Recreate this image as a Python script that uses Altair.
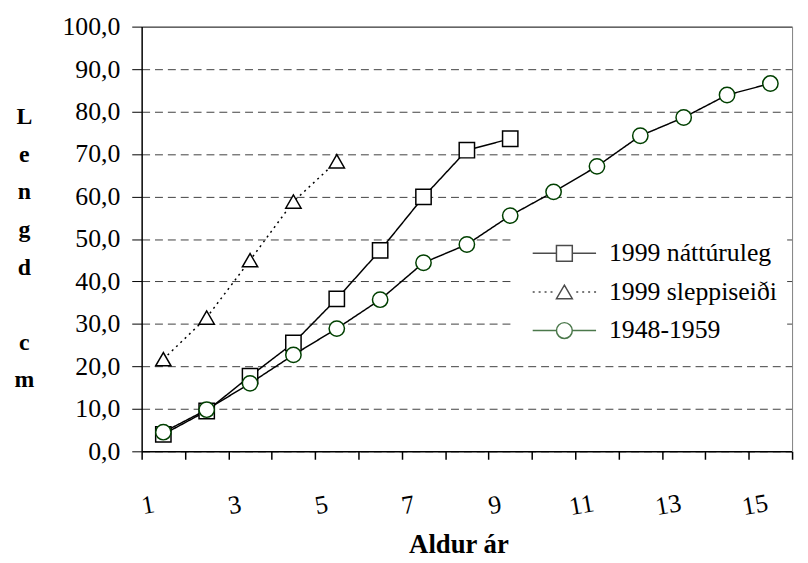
import altair as alt
import pandas as pd

# ---- data ----
categories = list(range(1, 16))
series_names = ["1999 náttúruleg", "1999 sleppiseiði", "1948-1959"]

ages_natt = [1, 2, 3, 4, 5, 6, 7, 8, 9]
natt = [4.0, 9.5, 17.7, 25.5, 35.9, 47.3, 59.9, 70.9, 73.6]

ages_slepp = [1, 2, 3, 4, 5]
slepp = [21.7, 31.5, 45.0, 58.8, 68.3]

ages_old = list(range(1, 16))
old = [4.5, 9.8, 16.0, 22.7, 28.9, 35.7, 44.4, 48.7, 55.5, 61.1, 67.1, 74.3, 78.6, 83.9, 86.6]

y_ticks = list(range(0, 101, 10))

rows = []
for a, v in zip(ages_natt, natt):
    rows.append({"age": a, "length": v, "series": series_names[0]})
for a, v in zip(ages_slepp, slepp):
    rows.append({"age": a, "length": v, "series": series_names[1]})
for a, v in zip(ages_old, old):
    rows.append({"age": a, "length": v, "series": series_names[2]})
df = pd.DataFrame(rows)

FONT = "'Liberation Serif', 'Times New Roman', Times, serif"
GREEN = "#004000"

x_enc = alt.X(
    "age:O",
    scale=alt.Scale(type="band", domain=categories, paddingInner=0, paddingOuter=0),
    axis=alt.Axis(
        title="Aldur ár",
        grid=False,
        domainColor="black",
        domainWidth=1.5,
        tickColor="black",
        tickWidth=1.5,
        tickSize=8,
        tickBand="extent",
        labelExpr="datum.value % 2 == 1 ? datum.label : ''",
        labelAngle=350,
        labelAlign="center",
        labelBaseline="middle",
        labelPadding=46,
        labelOffset=-16,
        labelFont=FONT,
        labelFontSize=26,
        labelColor="black",
        titleFont=FONT,
        titleFontSize=27,
        titleFontWeight="bold",
        titleColor="black",
        titleX=320,
        titleY=102,
        titleAlign="center",
        titleBaseline="alphabetic",
    ),
)

y_enc = alt.Y(
    "length:Q",
    scale=alt.Scale(domain=[0, 100], nice=False),
    axis=alt.Axis(
        values=y_ticks,
        labelExpr="replace(format(datum.value, '.1f'), '.', ',')",
        grid=True,
        gridDash={"condition": {"test": "datum.value === 100", "value": []}, "value": [8, 5]},
        gridColor={"condition": {"test": "datum.value === 100", "value": "black"}, "value": "#404040"},
        gridWidth=1,
        domainColor="black",
        domainWidth=1.5,
        tickColor="black",
        tickWidth=1,
        tickSize=10,
        labelFont=FONT,
        labelFontSize=26,
        labelColor="black",
        labelPadding=12,
        title=["L", "e", "n", "g", "d", "\u200b", "c", "m"],
        titleAngle=0,
        titleX=-119,
        titleY=98,
        titleAlign="center",
        titleBaseline="alphabetic",
        titleLineHeight=38,
        titleFont=FONT,
        titleFontSize=24,
        titleFontWeight="bold",
        titleColor="black",
    ),
)

y_right = alt.Y(
    "length:Q",
    scale=alt.Scale(domain=[0, 100], nice=False),
    axis=alt.Axis(orient="right", labels=False, ticks=False, grid=False,
                  domainColor="#808080", domainWidth=1, title=None),
)

base = alt.Chart(df)

lines = base.mark_line(color="black", strokeWidth=1.5).encode(
    x=x_enc,
    y=y_enc,
    strokeDash=alt.StrokeDash(
        "series:N",
        scale=alt.Scale(domain=series_names, range=[[1, 0], [2, 4], [1, 0]]),
        legend=None,
    ),
)

points = base.mark_point(filled=True, fill="white", opacity=1, strokeWidth=1.5, size=240).encode(
    x=x_enc,
    y=y_enc,
    shape=alt.Shape(
        "series:N",
        scale=alt.Scale(domain=series_names, range=["square", "triangle-up", "circle"]),
        legend=None,
    ),
    stroke=alt.Stroke(
        "series:N",
        scale=alt.Scale(domain=series_names, range=["black", "black", GREEN]),
        legend=None,
    ),
)

path_sq = "M-4,0H-1M1,0H4M-1,-1H1V1H-1Z"
path_tri = ("M-4,0H-3.75M-3.25,0H-3M-2.5,0H-2.25M-1.75,0H-1.5"
            "M1.5,0H1.75M2.25,0H2.5M3,0H3.25M3.75,0H4"
            "M0,-0.85L1,0.85L-1,0.85Z")
path_ci = "M-4,0H-1M1,0H4M-1,0A1,1 0 1,0 1,0A1,1 0 1,0 -1,0Z"

leg = alt.Legend(
    orient="none",
    legendX=376,
    legendY=206,
    fillColor="white",
    padding=10,
    symbolSize=256,
    symbolStrokeWidth=1.5,
    symbolOffset=28,
    labelOffset=32,
    labelFont=FONT,
    labelFontSize=26,
    labelColor="black",
    labelLimit=0,
    rowPadding=13,
    title=None,
    labelExpr="datum.label + '      '",
)

legend_layer = base.transform_filter("false").mark_point(strokeWidth=1.5).encode(
    y=y_right,
    shape=alt.Shape("series:N", scale=alt.Scale(domain=series_names,
                                                  range=[path_sq, path_tri, path_ci]), legend=leg),
    stroke=alt.Stroke("series:N", scale=alt.Scale(domain=series_names,
                                                    range=["black", "black", GREEN]), legend=leg),
)

chart = (
    alt.layer(alt.layer(lines, points), legend_layer)
    .resolve_axis(y="independent")
    .resolve_scale(shape="independent", stroke="independent")
    .properties(
        width=657,
        height=429,
        padding={"left": 135, "top": 16, "right": 8, "bottom": 110},
        autosize=alt.AutoSizeParams(type="none"),
        background="white",
    )
    .configure_view(stroke=None)
)

chart.save("out.html", embed_options={"renderer": "svg", "actions": False})
